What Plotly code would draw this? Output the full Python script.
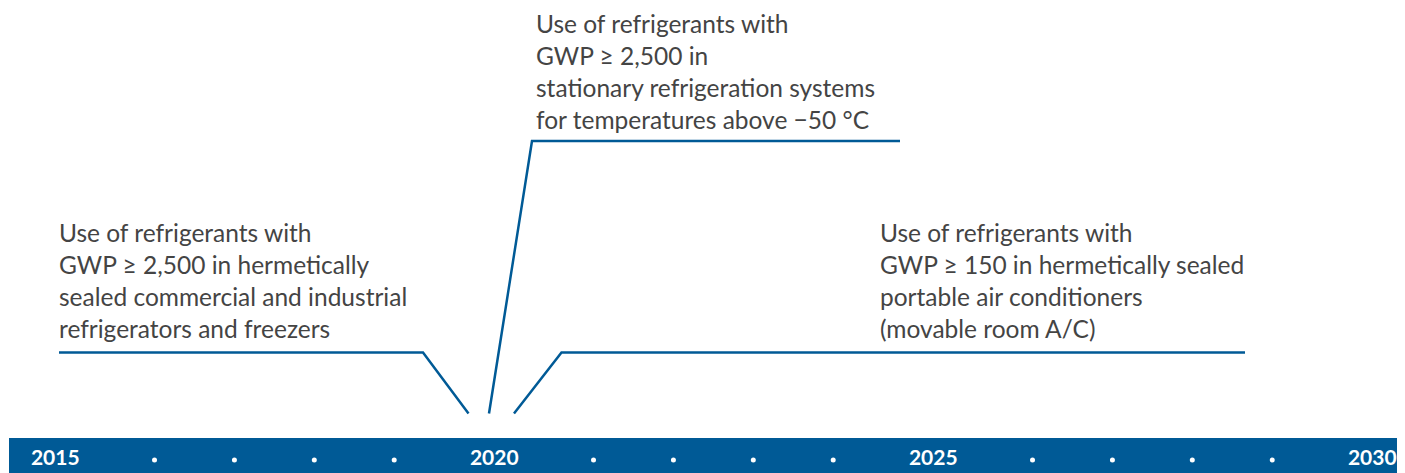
import plotly.graph_objects as go

# ---- data ----
year_labels = [2015, 2020, 2025, 2030]
dots_per_gap = 4
callout_texts = [
    "Use of refrigerants with<br>GWP ≥ 2,500 in hermetically<br>sealed commercial and industrial<br>refrigerators and freezers",
    "Use of refrigerants with<br>GWP ≥ 2,500 in<br>stationary refrigeration systems<br>for temperatures above −50 °C",
    "Use of refrigerants with<br>GWP ≥ 150 in hermetically sealed<br>portable air conditioners<br>(movable room A/C)",
]
event_year = 2020

# ---- layout constants ----
WIN_W, WIN_H = 1405, 473
OFF = 8  # page body margin
W, H = WIN_W - OFF, WIN_H - OFF
PX_PER_YEAR = 87.8
BLUE = "#005a96"
TEXT = "#444444"
BAR_Y = 460

def px(xpix):
    """window pixel -> year units"""
    return 2015 + (xpix - 55.3) / PX_PER_YEAR

def py(ypix):
    """window pixel -> paper units"""
    return (WIN_H - ypix) / H

# dot positions within each gap between labelled years
dot_x = []
for a, b in zip(year_labels[:-1], year_labels[1:]):
    for k in range(dots_per_gap):
        dot_x.append(a + 1.13 + k * 0.91)

fig = go.Figure()

# timeline bar
fig.add_shape(type="rect", xref="x", yref="y", x0=px(9), x1=px(WIN_W + 30), y0=438, y1=WIN_H + 30,
              fillcolor=BLUE, line=dict(width=0), layer="below")

fig.add_trace(go.Scatter(
    x=dot_x, y=[BAR_Y] * len(dot_x), mode="markers",
    marker=dict(color="white", size=5), hoverinfo="skip", showlegend=False))

fig.add_trace(go.Scatter(
    x=year_labels, y=[BAR_Y] * len(year_labels), mode="text",
    text=[str(y) for y in year_labels], textposition="middle center",
    textfont=dict(family="Lato", size=21, color="white", weight="bold"),
    hoverinfo="skip", showlegend=False, cliponaxis=False))

# callout lines
paths = [
    [(px(59), 352.5), (px(423), 352.5), (px(468.5), 413.5)],
    [(px(489), 413.5), (px(532), 141), (px(900), 141)],
    [(px(514), 413.5), (px(561.5), 352.5), (px(1245), 352.5)],
]
for pts in paths:
    fig.add_trace(go.Scatter(
        x=[p[0] for p in pts], y=[p[1] for p in pts], mode="lines",
        line=dict(color=BLUE, width=2.5), hoverinfo="skip", showlegend=False))

text_pos = [(px(58), 217), (px(535), 8), (px(879), 217)]
for (tx, ty), t in zip(text_pos, callout_texts):
    fig.add_annotation(x=tx, y=py(ty), xref="x", yref="paper", text=t, showarrow=False,
                       xanchor="left", yanchor="top", align="left", borderpad=0,
                       font=dict(family="Lato", size=24.5, color=TEXT))

fig.update_layout(
    width=W, height=H, margin=dict(l=0, r=0, t=0, b=0),
    paper_bgcolor="white", plot_bgcolor="white",
    xaxis=dict(range=[px(OFF), px(WIN_W)], visible=False, fixedrange=True),
    yaxis=dict(range=[WIN_H, OFF], visible=False, fixedrange=True),
)

fig.write_html("out.html")
